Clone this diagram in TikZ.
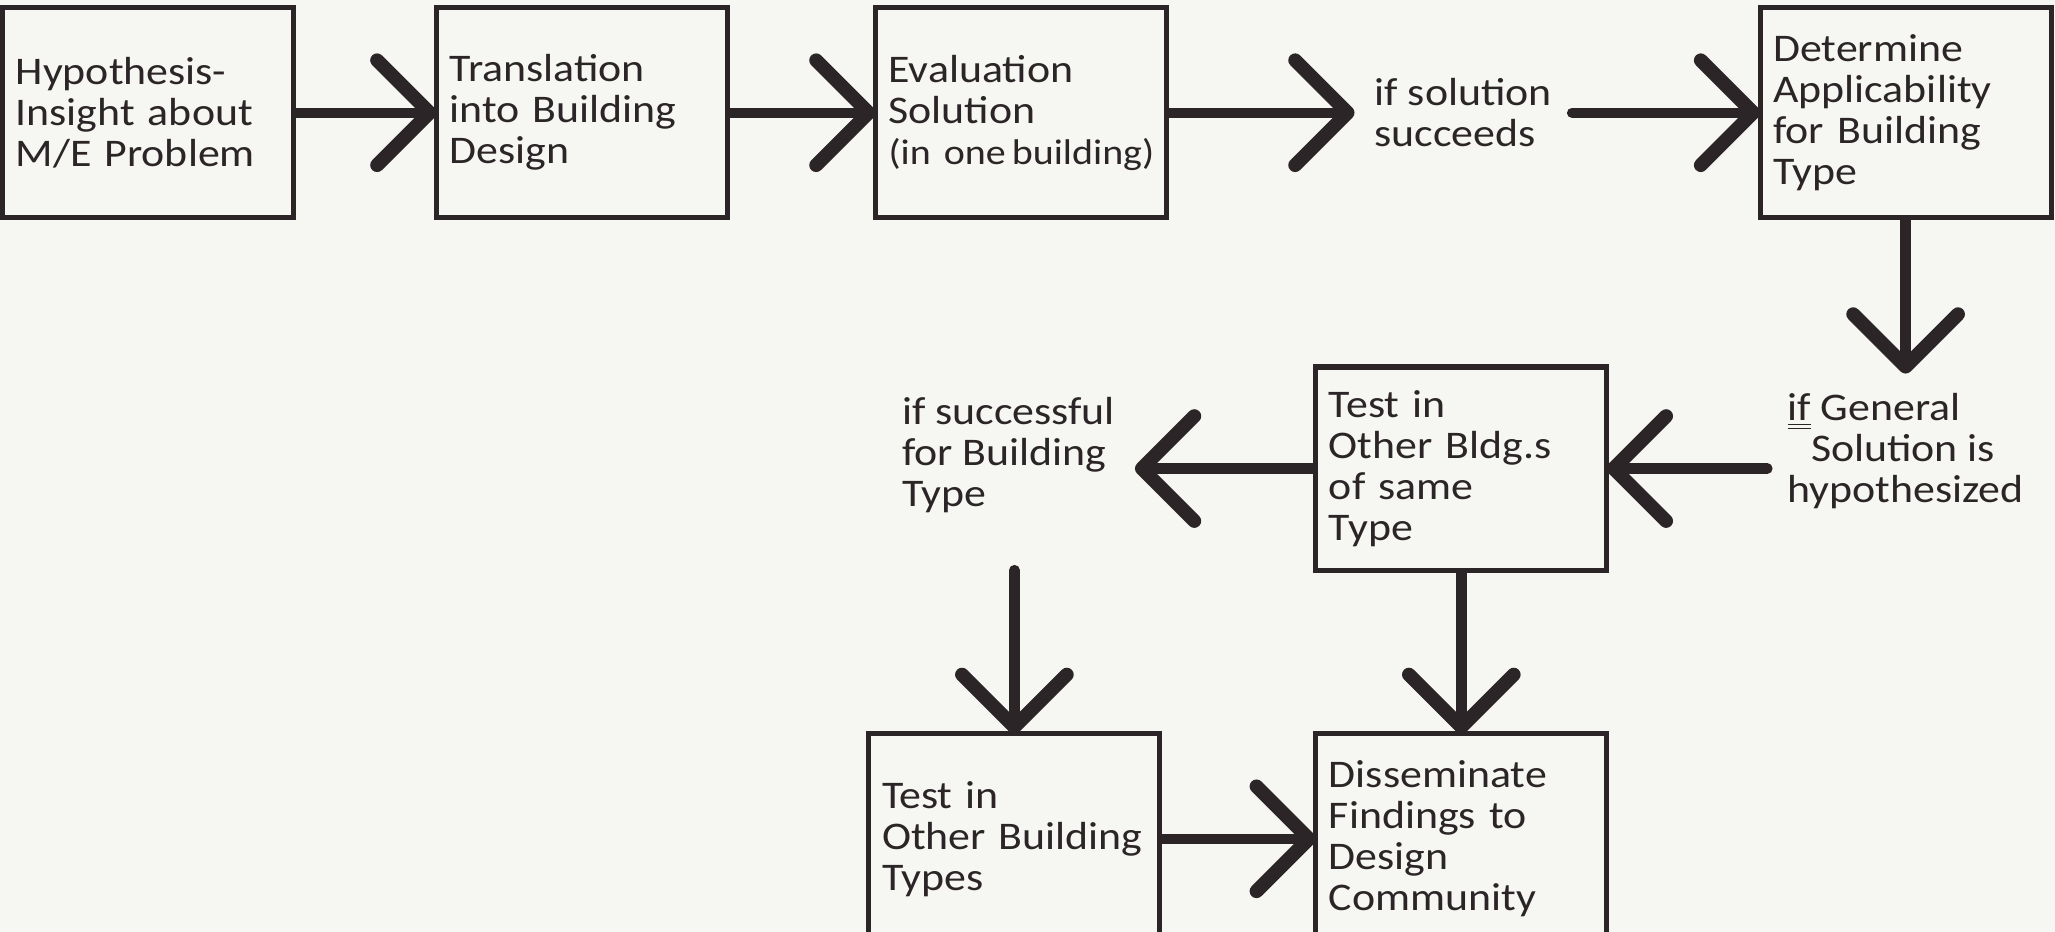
\documentclass[tikz,border=0pt]{standalone}
\usepackage{fontspec}
\setmainfont{Carlito}[FakeStretch=1.12]
\usetikzlibrary{arrows.meta, calc, positioning}
\definecolor{ink}{HTML}{2B2527}
\definecolor{paper}{HTML}{F6F6F2}

\begin{document}
\begin{tikzpicture}[font=\fontsize{17}{17.8}\selectfont, align=left, color=ink,
  box/.style={draw, line width=2.2pt, outer sep=0pt, minimum width=4.44cm,
    minimum height=3.2cm, text width=4.04cm, inner xsep=0.2cm},
  note/.style={inner sep=0.3cm},
  flow/.style={line width=4.5pt,
    -{Straight Barb[length=0.8cm, width=1.6cm, line width=6pt, round]}},
  freeend/.style={flow, line cap=round}]
  \fill[paper] (0,0) rectangle (31.36,-14.22);
  \path[use as bounding box, clip] (0,0) rectangle (31.36,-14.22);

  \node[box] (hyp) at (2.26,-1.72) {Hypothesis-\\Insight about\\M/E Problem};
  \node[box, right=2.18cm of hyp] (trans) {Translation\\into Building\\Design};
  \node[box, right=2.26cm of trans] (eval) {Evaluation\\Solution\\\mbox{\fontsize{15.5}{17.8}\selectfont(in one\,building)}};
  \node[box, right=9.06cm of eval] (det) {Determine\\Applicability\\for Building\\Type};
  \node[note] (succ) at ($(eval.east)!0.5!(det.west)$) {if solution\\succeeds};

  \node[note, below=2.38cm of det] (gen) {\underline{\underline{if}} General\\\hspace{0.36cm}Solution is\\hypothesized};
  \node[box, minimum height=3.1cm, below left=2.28cm and 2.34cm of det] (same) {Test in\\Other Bldg.s\\of same\\Type};
  \node[note, left=2.76cm of same, yshift=0.2cm] (succ2) {if successful\\for Building\\Type};

  \node[box, below=2.5cm of same] (diss) {Disseminate\\Findings to\\Design\\Community};
  \node[box, left=2.38cm of diss] (other) {Test in\\Other Building\\Types};

  \draw[flow] (hyp) -- (trans);
  \draw[flow] (trans) -- (eval);
  \draw[flow] (eval) -- (succ);
  \draw[freeend] (succ) -- (det);
  \draw[flow] (det) -- (gen);
  \draw[freeend] (gen.west |- same) -- (same);
  \draw[flow] (same) -- (same -| succ2.east);
  \draw[freeend] (other.north |- same.south) -- (other);
  \draw[flow] (same) -- (diss);
  \draw[flow] (other) -- (diss);
\end{tikzpicture}
\end{document}
